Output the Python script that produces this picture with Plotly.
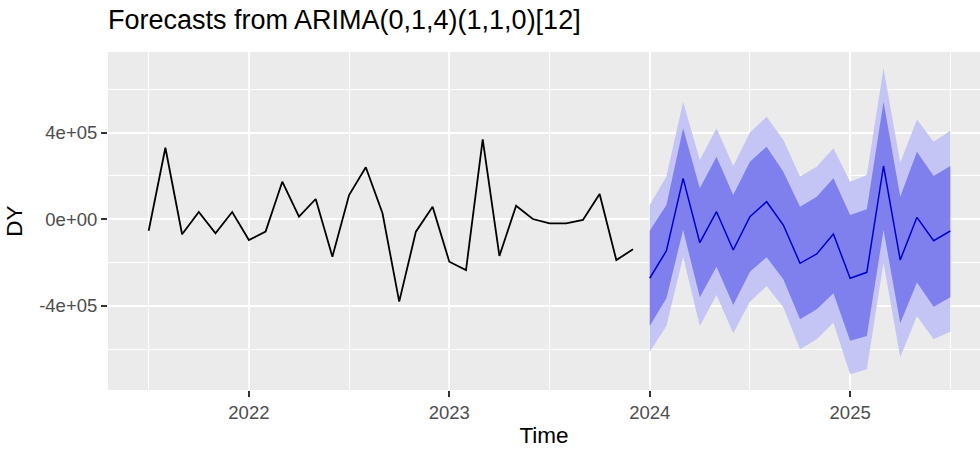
import plotly.graph_objects as go
import pandas as pd

# ---- data ----
hist_start = "2021-07"
hist_values = [-52600, 330000, -69000, 33700, -64600, 33700,
               -95500, -57000, 173500, 12000, 93700, -172500,
               112000, 240000, 27700, -380000, -57000, 58000,
               -195600, -234000, 369000, -169000, 62800, 1400,
               -18500, -18500, -3200, 116700, -188000, -138500]

fc_start = "2024-01"
fc_mean = [-272000, -145000, 189000, -108000, 35000, -141700, 12000, 81200,
           -26300, -203000, -160000, -67800, -272000, -244600, 246000,
           -187800, 9200, -98700, -54000]
fc_hi80 = [-52600, 66000, 420000, 143000, 289000, 112000, 266000, 335000,
           220000, 58000, 104000, 189000, 20000, 46000, 543000, 104000,
           312000, 200000, 246000]
fc_lo80 = [-492000, -364000, -49000, -360000, -219000, -395000, -242000,
           -175000, -277000, -461000, -415000, -341000, -560000, -538000,
           -49000, -480000, -292000, -403000, -360000]
fc_hi95 = [66000, 197000, 543000, 274000, 420000, 246000, 400000, 473000,
           366000, 197000, 243000, 328000, 173000, 204000, 697000, 261000,
           461000, 358000, 409000]
fc_lo95 = [-611000, -492000, -172500, -492000, -349000, -526000, -380000,
           -308000, -406000, -600000, -554000, -477000, -715000, -692000,
           -200000, -637000, -446000, -554000, -519000]

x_tickvals = [2022, 2023, 2024, 2025]
x_ticktext = ["2022", "2023", "2024", "2025"]
y_tickvals = [-400000, 0, 400000]
y_ticktext = ["-4e+05", "0e+00", "4e+05"]


def decimal_time(start, n):
    p = pd.period_range(start=start, periods=n, freq="M")
    return [per.year + (per.month - 1) / 12 for per in p]


hist_t = decimal_time(hist_start, len(hist_values))
fc_t = decimal_time(fc_start, len(fc_mean))

LIGHT = "#C4C4F5"
DARK = "#7F7FEE"

fig = go.Figure()
fig.add_trace(go.Scatter(x=fc_t, y=fc_lo95, mode="lines", line=dict(width=0),
                         showlegend=False, hoverinfo="skip"))
fig.add_trace(go.Scatter(x=fc_t, y=fc_hi95, mode="lines", line=dict(width=0),
                         fill="tonexty", fillcolor=LIGHT, showlegend=False,
                         name="95%"))
fig.add_trace(go.Scatter(x=fc_t, y=fc_lo80, mode="lines", line=dict(width=0),
                         showlegend=False, hoverinfo="skip"))
fig.add_trace(go.Scatter(x=fc_t, y=fc_hi80, mode="lines", line=dict(width=0),
                         fill="tonexty", fillcolor=DARK, showlegend=False,
                         name="80%"))
fig.add_trace(go.Scatter(x=fc_t, y=fc_mean, mode="lines",
                         line=dict(color="#0000CC", width=1.5),
                         showlegend=False, name="Forecast"))
fig.add_trace(go.Scatter(x=hist_t, y=hist_values, mode="lines",
                         line=dict(color="black", width=1.8),
                         showlegend=False, name="DY"))

FONT = "Liberation Sans, Arial, sans-serif"
fig.update_layout(
    width=980, height=450,
    margin=dict(l=108, r=0, t=52, b=60),
    paper_bgcolor="white",
    plot_bgcolor="#EBEBEB",
    font=dict(family=FONT),
    title=dict(text="Forecasts from ARIMA(0,1,4)(1,1,0)[12]",
               font=dict(size=27, color="black", family=FONT),
               x=108 / 980, xanchor="left", xref="container",
               y=1 - 10 / 450, yanchor="top", yref="container"),
    xaxis=dict(range=[2021.297, 2025.648], tickvals=x_tickvals,
               ticktext=x_ticktext, showgrid=True, gridcolor="white",
               gridwidth=1.8, zeroline=False, ticks="outside", ticklen=6,
               tickcolor="#333333", tickwidth=1.5,
               tickfont=dict(size=18.5, color="#4D4D4D"),
               title=dict(text="Time", font=dict(size=22.5, color="black"),
                          standoff=5),
               minor=dict(dtick=0.5, tick0=2021.5, showgrid=True,
                          gridcolor="white", gridwidth=0.9, ticks=""),
               showline=False),
    yaxis=dict(range=[-787600, 772000], tickvals=y_tickvals,
               ticktext=y_ticktext, showgrid=True, gridcolor="white",
               gridwidth=1.8, zeroline=False, ticks="outside", ticklen=6,
               tickcolor="#333333", tickwidth=1.5,
               tickfont=dict(size=18.5, color="#4D4D4D"),
               title=dict(text="DY", font=dict(size=22.5, color="black"),
                          standoff=10),
               minor=dict(dtick=200000, tick0=0, showgrid=True,
                          gridcolor="white", gridwidth=0.9, ticks=""),
               showline=False),
)

fig.write_html("out.html", config={"displayModeBar": False},
               post_script="document.body.style.margin='0';")
